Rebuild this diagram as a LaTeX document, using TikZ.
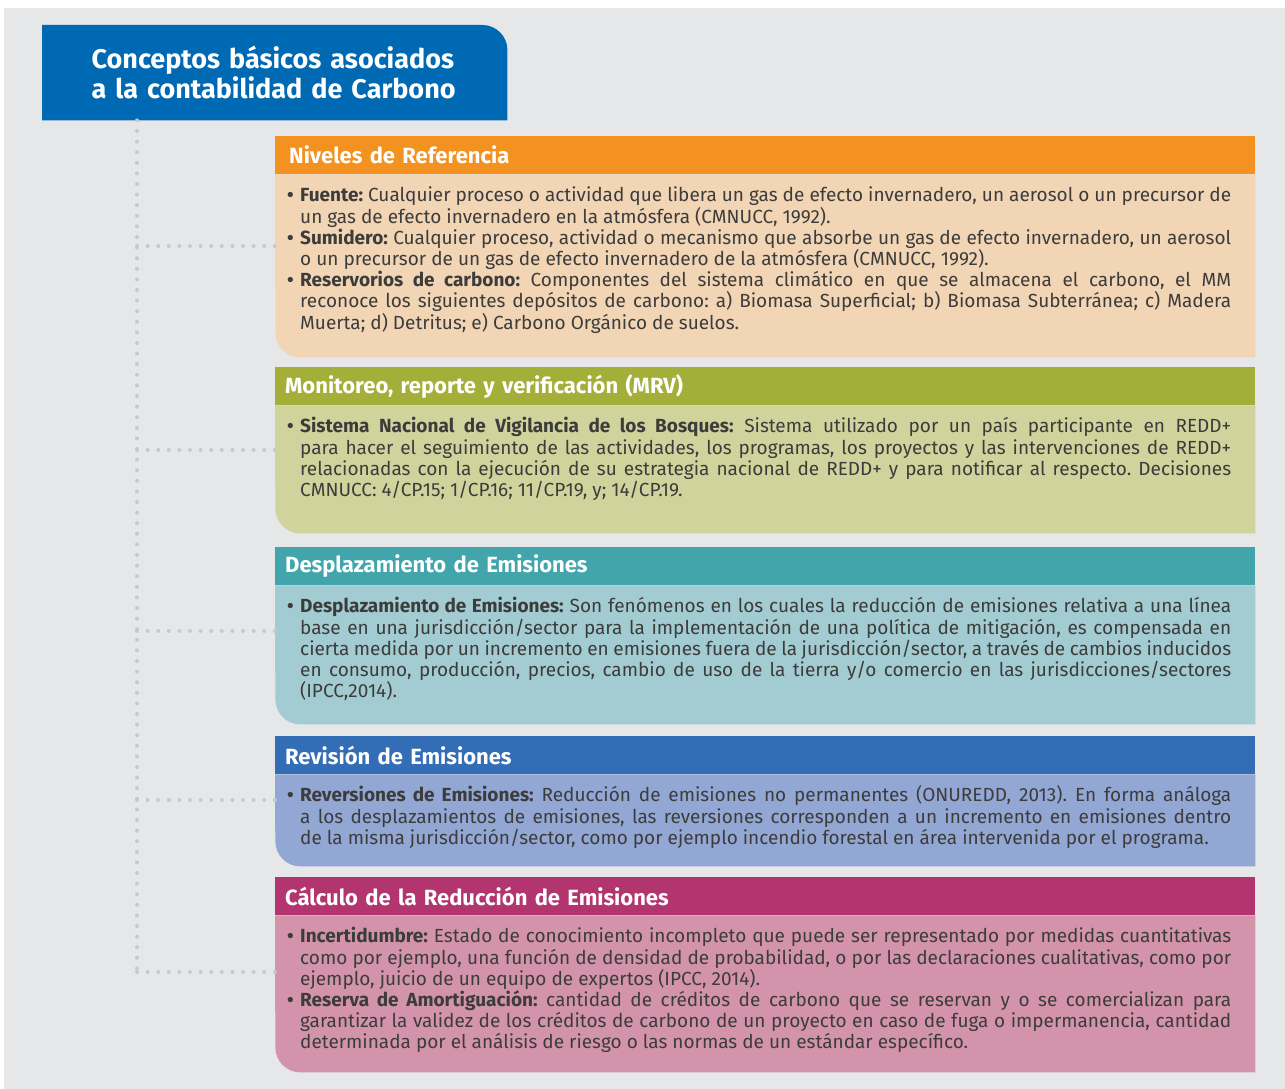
\documentclass[tikz,border=0pt]{standalone}
\usepackage{fontspec}
\setmainfont{Fira Sans}
\usetikzlibrary{positioning,backgrounds}
\hyphenpenalty=10000

\definecolor{bggray}{HTML}{E6E7E8}
\definecolor{titleblue}{HTML}{0069B4}
\definecolor{ink}{HTML}{3C3C3B}
\definecolor{dotgray}{HTML}{C8C9CB}
\definecolor{hdrA}{HTML}{F39220}
\definecolor{bodyA}{HTML}{F2D5B5}
\definecolor{hdrB}{HTML}{A4AF3A}
\definecolor{bodyB}{HTML}{D0D49C}
\definecolor{hdrC}{HTML}{42A5AC}
\definecolor{bodyC}{HTML}{A3CCD2}
\definecolor{hdrD}{HTML}{336DB5}
\definecolor{bodyD}{HTML}{93A7D5}
\definecolor{hdrE}{HTML}{B23570}
\definecolor{bodyE}{HTML}{D394AB}

\newcommand{\cbitem}[1]{\par\noindent\hangindent=13pt\hangafter=1\makebox[13pt][l]{\textbf{\textbullet}}\textbf{#1}}

\tikzset{
  hdrbox/.style={anchor=north west, minimum width=980pt, minimum height=38pt, inner xsep=10pt,
    text width=960pt, align=left, text=white, font=\bfseries\fontsize{22}{26}\selectfont},
  bodytxt/.style={anchor=north west, inner xsep=12pt, inner ysep=0pt, yshift=-6pt, text width=944pt,
    align=justify, text=ink, font=\frenchspacing\fontsize{19}{21.2}\selectfont},
  dotline/.style={draw=dotgray, line width=4pt, line cap=round, dash pattern=on 0pt off 10.6pt},
}

\begin{document}
\begin{tikzpicture}[x=1pt,y=-1pt]
\useasboundingbox (0,0) rectangle (1285,1089);

% title
\node (title) [anchor=north west, minimum width=465pt, minimum height=95pt, inner sep=0pt,
  text width=366pt, align=left, text=white, font=\bfseries\fontsize{27}{29.5}\selectfont]
  at (42,25) {Conceptos básicos asociados\\a la contabilidad de Carbono};

% sections
\node (hdrA) [hdrbox, fill=hdrA] at (275,136) {\hspace{4pt}Niveles de Referencia};
\node (txtA) [bodytxt] at (hdrA.south west) {%
\cbitem{Fuente:} Cualquier proceso o actividad que libera un gas de efecto invernadero, un aerosol o un precursor de\linebreak
un gas de efecto invernadero en la atmósfera (CMNUCC, 1992).
\cbitem{Sumidero:} Cualquier proceso, actividad o mecanismo que absorbe un gas de efecto invernadero, un aerosol\linebreak
o un precursor de un gas de efecto invernadero de la atmósfera (CMNUCC, 1992).
\cbitem{Reservorios de carbono:} Componentes del sistema climático en que se almacena el carbono, el MM\linebreak
reconoce los siguientes depósitos de carbono: a) Biomasa Superficial; b) Biomasa Subterránea; c) Madera\linebreak
Muerta; d) Detritus; e) Carbono Orgánico de suelos.\par};

\node (hdrB) [hdrbox, fill=hdrB] at (275,367) {Monitoreo, reporte y verificación (MRV)};
\node (txtB) [bodytxt] at (hdrB.south west) {%
\cbitem{Sistema Nacional de Vigilancia de los Bosques:} Sistema utilizado por un país participante en REDD+\linebreak
para hacer el seguimiento de las actividades, los programas, los proyectos y las intervenciones de REDD+\linebreak
relacionadas con la ejecución de su estrategia nacional de REDD+ y para notificar al respecto. Decisiones\linebreak
CMNUCC: 4/CP.15; 1/CP.16; 11/CP.19, y; 14/CP.19.\par};

\node (hdrC) [hdrbox, fill=hdrC] at (275,547) {Desplazamiento de Emisiones};
\node (txtC) [bodytxt] at (hdrC.south west) {%
\cbitem{Desplazamiento de Emisiones:} Son fenómenos en los cuales la reducción de emisiones relativa a una línea\linebreak
base en una jurisdicción/sector para la implementación de una política de mitigación, es compensada en\linebreak
cierta medida por un incremento en emisiones fuera de la jurisdicción/sector, a través de cambios inducidos\linebreak
en consumo, producción, precios, cambio de uso de la tierra y/o comercio en las jurisdicciones/sectores\linebreak
(IPCC,2014).\par};

\node (hdrD) [hdrbox, fill=hdrD] at (275,736) {Revisión de Emisiones};
\node (txtD) [bodytxt] at (hdrD.south west) {%
\cbitem{Reversiones de Emisiones:} Reducción de emisiones no permanentes (ONUREDD, 2013). En forma análoga\linebreak
a los desplazamientos de emisiones, las reversiones corresponden a un incremento en emisiones dentro\linebreak
de la misma jurisdicción/sector, como por ejemplo incendio forestal en área intervenida por el programa.\par};

\node (hdrE) [hdrbox, fill=hdrE] at (275,877) {Cálculo de la Reducción de Emisiones};
\node (txtE) [bodytxt] at (hdrE.south west) {%
\cbitem{Incertidumbre:} Estado de conocimiento incompleto que puede ser representado por medidas cuantitativas\linebreak
como por ejemplo, una función de densidad de probabilidad, o por las declaraciones cualitativas, como por\linebreak
ejemplo, juicio de un equipo de expertos (IPCC, 2014).
\cbitem{Reserva de Amortiguación:} cantidad de créditos de carbono que se reservan y o se comercializan para\linebreak
garantizar la validez de los créditos de carbono de un proyecto en caso de fuga o impermanencia, cantidad\linebreak
determinada por el análisis de riesgo o las normas de un estándar específico.\par};

% shapes behind the text
\begin{scope}[on background layer]
\fill[bggray] (4,8) rectangle (1285,1089);
\fill[titleblue] (title.south west) -- (title.north west) [rounded corners=25pt] -- (title.north east) [sharp corners] -- (title.south east) -- cycle;
\fill[bodyA] (hdrA.south east) -- ++(0,183) [rounded corners=25pt] -- ++(-980,0) [sharp corners] -- (hdrA.south west) -- cycle;
\fill[bodyB] (hdrB.south east) -- ++(0,128) [rounded corners=25pt] -- ++(-980,0) [sharp corners] -- (hdrB.south west) -- cycle;
\fill[bodyC] (hdrC.south east) -- ++(0,139) [rounded corners=25pt] -- ++(-980,0) [sharp corners] -- (hdrC.south west) -- cycle;
\fill[bodyD] (hdrD.south east) -- ++(0,92) [rounded corners=25pt] -- ++(-980,0) [sharp corners] -- (hdrD.south west) -- cycle;
\fill[bodyE] (hdrE.south east) -- ++(0,157) [rounded corners=25pt] -- ++(-980,0) [sharp corners] -- (hdrE.south west) -- cycle;
\end{scope}

% dotted tree
\coordinate (jA) at (137,246);
\coordinate (jB) at (137,450);
\coordinate (jC) at (137,631);
\coordinate (jD) at (137,800);
\coordinate (jE) at (137,972);
\draw[dotline] (title.south -| jA) -- (jE);
\draw[dotline] (jA) -- (jA -| txtA.west);
\draw[dotline] (jB) -- (jB -| txtB.west);
\draw[dotline] (jC) -- (jC -| txtC.west);
\draw[dotline] (jD) -- (jD -| txtD.west);
\draw[dotline] (jE) -- (jE -| txtE.west);
\end{tikzpicture}
\end{document}
